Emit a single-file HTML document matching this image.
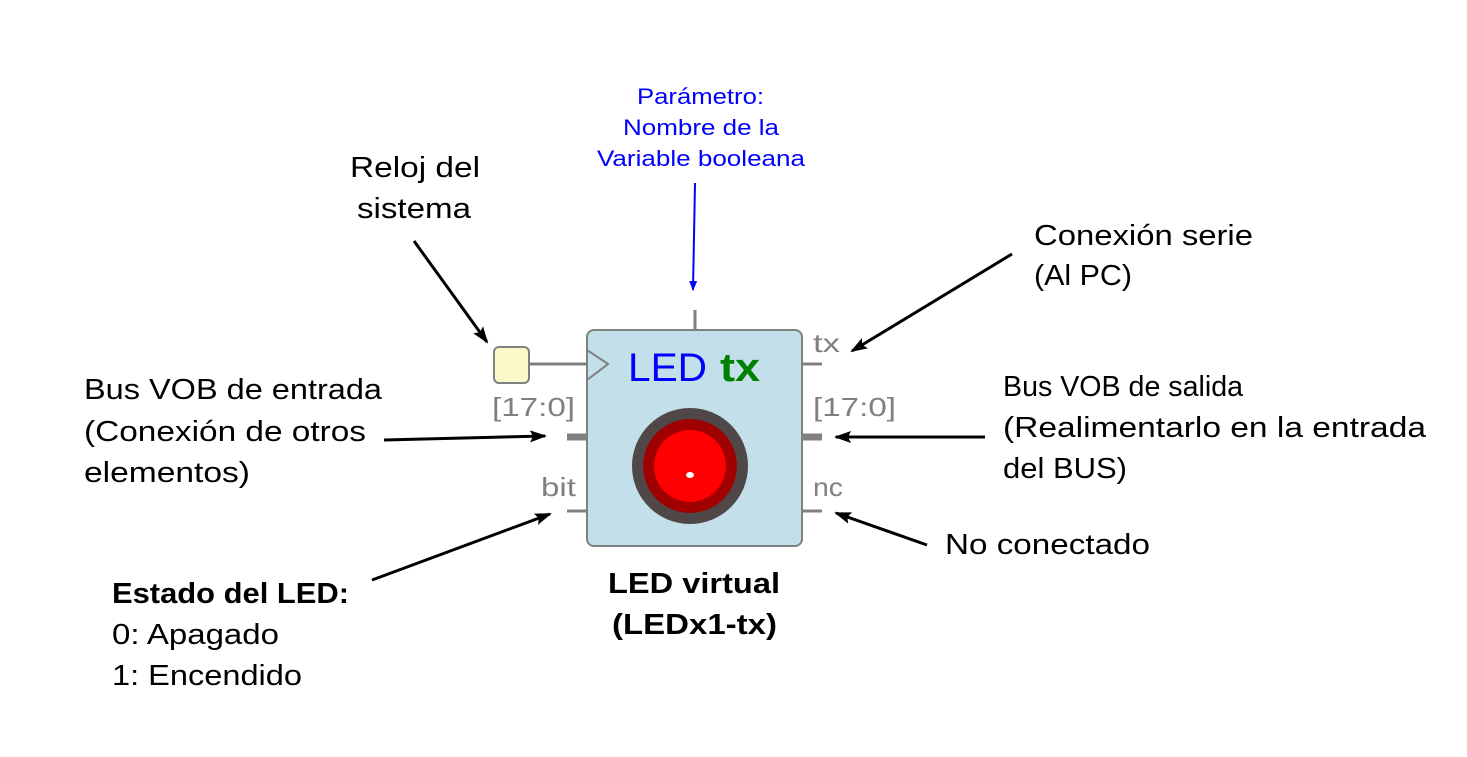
<!DOCTYPE html>
<html><head><meta charset="utf-8"><style>
html,body{margin:0;padding:0;background:#fff;}
svg{display:block;}
text{font-family:"Liberation Sans",sans-serif;}
</style></head><body>
<svg width="1467" height="757" viewBox="0 0 1467 757" xmlns="http://www.w3.org/2000/svg">
<defs>
<marker id="ak" markerWidth="18" markerHeight="14" refX="15" refY="6" orient="auto" markerUnits="userSpaceOnUse"><path d="M0,0 L17,6 L0,12 L3,6 z" fill="#000"/></marker>
<marker id="ab" markerWidth="10" markerHeight="10" refX="9" refY="5" orient="auto" markerUnits="userSpaceOnUse"><path d="M0,1 L10,5 L0,9 z" fill="#0000ff"/></marker>
</defs>
<g stroke="#808080">
<line x1="695" y1="310" x2="695" y2="330" stroke-width="3"/>
<line x1="529" y1="364" x2="587" y2="364" stroke-width="3"/>
<line x1="567" y1="437" x2="587" y2="437" stroke-width="7"/>
<line x1="567" y1="511" x2="587" y2="511" stroke-width="3"/>
<line x1="802" y1="364" x2="822" y2="364" stroke-width="3"/>
<line x1="802" y1="437" x2="822" y2="437" stroke-width="7"/>
<line x1="802" y1="511" x2="822" y2="511" stroke-width="3"/>
</g>
<rect x="494" y="347" width="35" height="36" rx="5" fill="#fafac8" stroke="#808080" stroke-width="2"/>
<rect x="587" y="330" width="215" height="216" rx="7" fill="#c2dfea" stroke="#808080" stroke-width="2"/>
<polyline points="587,350 608,364 587,380" fill="none" stroke="#808080" stroke-width="2"/>
<text x="628" y="381" font-size="40" fill="#0000ff" textLength="79" lengthAdjust="spacingAndGlyphs">LED</text>
<text x="720" y="381" font-size="40" fill="#008000" font-weight="bold" textLength="40" lengthAdjust="spacingAndGlyphs">tx</text>
<circle cx="690" cy="466" r="58" fill="#504848"/>
<circle cx="690" cy="466" r="47" fill="#a00000"/>
<circle cx="690" cy="466" r="36" fill="#ff0000"/>
<ellipse cx="690" cy="475" rx="4" ry="3" fill="#fff"/>
<g fill="#808080" font-size="26">
<text x="492" y="416" textLength="83" lengthAdjust="spacingAndGlyphs">[17:0]</text>
<text x="541" y="496" textLength="35" lengthAdjust="spacingAndGlyphs">bit</text>
<text x="813" y="352" textLength="27" lengthAdjust="spacingAndGlyphs">tx</text>
<text x="813" y="416" textLength="83" lengthAdjust="spacingAndGlyphs">[17:0]</text>
<text x="813" y="496" textLength="30" lengthAdjust="spacingAndGlyphs">nc</text>
</g>
<g fill="#0000ff" font-size="22">
<text x="637" y="104" textLength="127" lengthAdjust="spacingAndGlyphs">Parámetro:</text>
<text x="623" y="135" textLength="156" lengthAdjust="spacingAndGlyphs">Nombre de la</text>
<text x="597" y="166" textLength="208" lengthAdjust="spacingAndGlyphs">Variable booleana</text>
</g>
<line x1="695" y1="183" x2="693" y2="290" stroke="#0000ff" stroke-width="2" marker-end="url(#ab)"/>
<g stroke="#000" stroke-width="3" fill="none">
<line x1="414" y1="241" x2="487" y2="342" marker-end="url(#ak)"/>
<line x1="384" y1="440" x2="545" y2="436" marker-end="url(#ak)"/>
<line x1="372" y1="580" x2="550" y2="514" marker-end="url(#ak)"/>
<line x1="1012" y1="254" x2="852" y2="351" marker-end="url(#ak)"/>
<line x1="985" y1="437" x2="836" y2="437" marker-end="url(#ak)"/>
<line x1="927" y1="545" x2="836" y2="513" marker-end="url(#ak)"/>
</g>
<g fill="#000" font-size="29" lengthAdjust="spacingAndGlyphs">
<text x="350" y="177" textLength="130" lengthAdjust="spacingAndGlyphs">Reloj del</text>
<text x="357" y="218" textLength="114" lengthAdjust="spacingAndGlyphs">sistema</text>
<text x="84" y="399" textLength="298" lengthAdjust="spacingAndGlyphs">Bus VOB de entrada</text>
<text x="84" y="441" textLength="282" lengthAdjust="spacingAndGlyphs">(Conexión de otros</text>
<text x="84" y="482" textLength="166" lengthAdjust="spacingAndGlyphs">elementos)</text>
<text x="1034" y="245" textLength="219" lengthAdjust="spacingAndGlyphs">Conexión serie</text>
<text x="1034" y="285" textLength="98" lengthAdjust="spacingAndGlyphs">(Al PC)</text>
<text x="1003" y="396" textLength="240" lengthAdjust="spacingAndGlyphs">Bus VOB de salida</text>
<text x="1003" y="437" textLength="423" lengthAdjust="spacingAndGlyphs">(Realimentarlo en la entrada</text>
<text x="1003" y="478" textLength="124" lengthAdjust="spacingAndGlyphs">del BUS)</text>
<text x="945" y="554" textLength="205" lengthAdjust="spacingAndGlyphs">No conectado</text>
<text x="112" y="603" font-weight="bold" textLength="237" lengthAdjust="spacingAndGlyphs">Estado del LED:</text>
<text x="112" y="644" textLength="167" lengthAdjust="spacingAndGlyphs">0: Apagado</text>
<text x="112" y="685" textLength="190" lengthAdjust="spacingAndGlyphs">1: Encendido</text>
<text x="608" y="593" font-weight="bold" textLength="172" lengthAdjust="spacingAndGlyphs">LED virtual</text>
<text x="612" y="634" font-weight="bold" textLength="165" lengthAdjust="spacingAndGlyphs">(LEDx1-tx)</text>
</g>
</svg>
</body></html>
